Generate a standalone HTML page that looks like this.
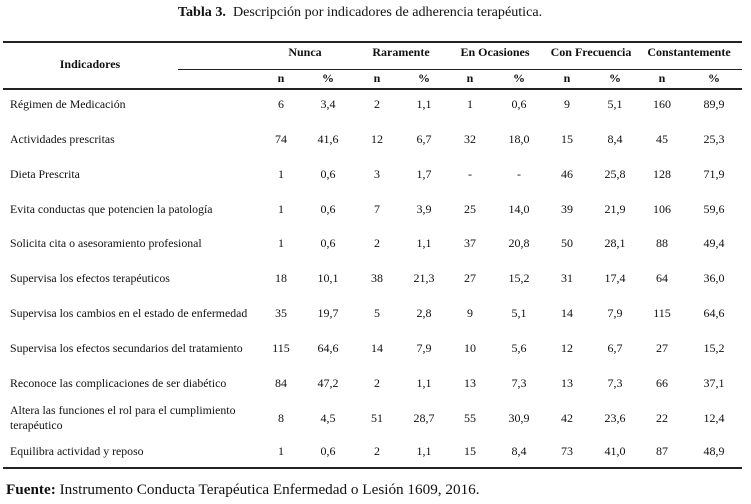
<!DOCTYPE html>
<html><head><meta charset="utf-8"><style>
body{margin:0;width:751px;height:504px;background:#fff;position:relative;font-family:"Liberation Serif",serif;color:#111;font-size:12px;overflow:hidden}
.t{position:absolute;white-space:nowrap;line-height:14px}
.c{transform:translateX(-50%)}
.b{font-weight:bold}
.l{position:absolute;background:#222}
</style></head><body>
<div class="t c" style="left:360px;top:5px;font-size:14.1px"><b>Tabla 3.</b>&nbsp; Descripción por indicadores de adherencia terapéutica.</div>
<div class="l" style="left:3px;top:41px;width:739px;height:1.5px"></div>
<div class="l" style="left:178px;top:69px;width:564px;height:1px"></div>
<div class="l" style="left:3px;top:88px;width:739px;height:1.5px"></div>
<div class="l" style="left:3px;top:467px;width:739px;height:1.5px"></div>
<div class="t c b" style="left:90px;top:57px">Indicadores</div>
<div id="h"></div>
<div class="t" style="left:6px;top:483px;font-size:15.2px"><b>Fuente:</b> Instrumento Conducta Terapéutica Enfermedad o Lesión 1609, 2016.</div>
<script>
var gx=[305,401,495,591,689],gn=["Nunca","Raramente","En Ocasiones","Con Frecuencia","Constantemente"];
var cx=[281,328,377,424,470,519,567,615,662,714];
var s="";
gn.forEach(function(n,i){s+='<div class="t c b" style="left:'+gx[i]+'px;top:45px">'+n+'</div>';});
cx.forEach(function(x,i){s+='<div class="t c b" style="left:'+x+'px;top:71px">'+(i%2?'%':'n')+'</div>';});
var rows=[
["Régimen de Medicación","6","3,4","2","1,1","1","0,6","9","5,1","160","89,9"],
["Actividades prescritas","74","41,6","12","6,7","32","18,0","15","8,4","45","25,3"],
["Dieta Prescrita","1","0,6","3","1,7","-","-","46","25,8","128","71,9"],
["Evita conductas que potencien la patología","1","0,6","7","3,9","25","14,0","39","21,9","106","59,6"],
["Solicita cita o asesoramiento profesional","1","0,6","2","1,1","37","20,8","50","28,1","88","49,4"],
["Supervisa los efectos terapéuticos","18","10,1","38","21,3","27","15,2","31","17,4","64","36,0"],
["Supervisa los cambios en el estado de enfermedad","35","19,7","5","2,8","9","5,1","14","7,9","115","64,6"],
["Supervisa los efectos secundarios del tratamiento","115","64,6","14","7,9","10","5,6","12","6,7","27","15,2"],
["Reconoce las complicaciones de ser diabético","84","47,2","2","1,1","13","7,3","13","7,3","66","37,1"],
["Altera las funciones el rol para el cumplimiento<br>terapéutico","8","4,5","51","28,7","55","30,9","42","23,6","22","12,4"],
["Equilibra actividad y reposo","1","0,6","2","1,1","15","8,4","73","41,0","87","48,9"]];
var ys=[104,139,174,209,243,278,313,348,383,418,451];
rows.forEach(function(r,i){var y=ys[i]-7;
 s+='<div class="t" style="left:10px;top:'+(i==9?y-8:y)+'px;line-height:15px;transform:scaleX(0.985);transform-origin:0 0">'+r[0]+'</div>';
 for(var j=1;j<11;j++)s+='<div class="t c" style="left:'+cx[j-1]+'px;top:'+y+'px">'+r[j]+'</div>';});
document.getElementById("h").innerHTML=s;
</script>
</body></html>
